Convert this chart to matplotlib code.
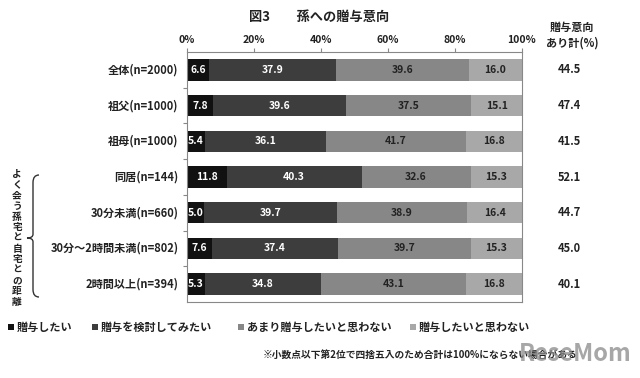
import matplotlib
matplotlib.use("Agg")
import matplotlib.pyplot as plt
from matplotlib.path import Path
from matplotlib.patches import PathPatch, Rectangle

plt.rcParams['font.family'] = ['Noto Sans CJK JP', 'DejaVu Sans']

categories = ["全体(n=2000)", "祖父(n=1000)", "祖母(n=1000)", "同居(n=144)",
              "30分未満(n=660)", "30分～2時間未満(n=802)", "2時間以上(n=394)"]
series_names = ["贈与したい", "贈与を検討してみたい", "あまり贈与したいと思わない", "贈与したいと思わない"]
want = [6.6, 7.8, 5.4, 11.8, 5.0, 7.6, 5.3]
consider = [37.9, 39.6, 36.1, 40.3, 39.7, 37.4, 34.8]
not_much = [39.6, 37.5, 41.7, 32.6, 38.9, 39.7, 43.1]
no = [16.0, 15.1, 16.8, 15.3, 16.4, 15.3, 16.8]
intent_total = [44.5, 47.4, 41.5, 52.1, 44.7, 45.0, 40.1]
xticks = [0, 20, 40, 60, 80, 100]
group_label = "よく会う孫宅と自宅との距離"

colors = ["#111111", "#3d3d3d", "#878787", "#a8a8a8"]
text_colors = ["white", "white", "#222222", "#222222"]

W, H = 640, 378
fig = plt.figure(figsize=(6.4, 3.78), dpi=100)
fig.patch.set_facecolor("white")

def fx(px):
    return px / W

def fy(py):
    return 1 - py / H

ax = fig.add_axes([fx(187), fy(302), fx(522) - fx(187), fy(52) - fy(302)])

series = [want, consider, not_much, no]
ypos = list(range(len(categories)))
left = [0.0] * len(categories)
for s, vals in enumerate(series):
    ax.barh(ypos, vals, left=left, height=0.6, color=colors[s], edgecolor="none")
    for i, v in enumerate(vals):
        ax.text(left[i] + v / 2, i, f"{v:.1f}", ha="center", va="center",
                color=text_colors[s], fontsize=7.5, fontweight="bold")
    left = [l + v for l, v in zip(left, vals)]

ax.set_xlim(0, 100)
ax.set_ylim(len(categories) - 0.5, -0.5)
ax.xaxis.tick_top()
ax.set_xticks(xticks)
ax.set_xticklabels([f"{t}%" for t in xticks], fontsize=7.5, fontweight="bold", color="#222222")
ax.tick_params(axis="x", length=3, color="#888888", pad=2)
ax.set_yticks([y + 0.5 for y in ypos[:-1]])
ax.set_yticklabels([])
ax.tick_params(axis="y", length=3, color="#888888")
for sp in ax.spines.values():
    sp.set_color("#888888")
    sp.set_linewidth(0.8)

for i, c in enumerate(categories):
    ax.text(-0.025, i, c, transform=ax.get_yaxis_transform(), ha="right", va="center",
            fontsize=8, fontweight="bold", color="#222222")

# right column
for i, v in enumerate(intent_total):
    ax.text(1.14, i, f"{v:.1f}", transform=ax.get_yaxis_transform(), ha="center", va="center",
            fontsize=8, fontweight="bold", color="#222222")
fig.text(fx(572), fy(35), "贈与意向\nあり計(%)", ha="center", va="center", fontsize=8,
         fontweight="bold", color="#222222", linespacing=1.3)

# title
fig.text(fx(319), fy(17), "図3　　孫への贈与意向", ha="center", va="center", fontsize=9.5,
         fontweight="bold", color="#222222")

# vertical group label, one character per line
n = len(group_label)
y_start, y_end = 174, 302
for k, ch in enumerate(group_label):
    yy = y_start + (y_end - y_start) * k / (n - 1)
    fig.text(fx(17), fy(yy), ch, ha="center", va="center", fontsize=7,
             fontweight="bold", color="#222222")

# brace
x0, x1, xt = fx(39), fx(33), fx(27)
ytop, ymid, ybot = fy(175), fy(238), fy(297)
verts = [(x0, ytop), (x1, ytop), (x1, ytop - 0.02),
         (x1, ymid + 0.01), (x1, ymid), (xt, ymid),
         (x1, ymid), (x1, ymid - 0.01),
         (x1, ybot + 0.02), (x1, ybot), (x0, ybot)]
codes = [Path.MOVETO, Path.CURVE3, Path.CURVE3,
         Path.LINETO, Path.CURVE3, Path.CURVE3,
         Path.CURVE3, Path.CURVE3,
         Path.LINETO, Path.CURVE3, Path.CURVE3]
fig.add_artist(PathPatch(Path(verts, codes), transform=fig.transFigure, fill=False,
                         edgecolor="#333333", linewidth=1.0))

# legend
leg_x = [8, 92, 238, 410]
for s, name in enumerate(series_names):
    fig.add_artist(Rectangle((fx(leg_x[s]), fy(330)), fx(6), 6 / H, transform=fig.transFigure,
                             facecolor=colors[s], edgecolor="none"))
    fig.text(fx(leg_x[s] + 9), fy(327), name, ha="left", va="center", fontsize=8,
             fontweight="bold", color="#222222")

# footnote
fig.text(fx(263), fy(355), "※小数点以下第2位で四捨五入のため合計は100%にならない場合がある",
         ha="left", va="center", fontsize=7, fontweight="bold", color="#222222")
fig.text(fx(632), fy(354), "ReseMom", ha="right", va="center", fontsize=17,
         fontweight="bold", color="#8a8a8a", alpha=0.75)

fig.savefig("out.png", dpi=100, facecolor="white")
